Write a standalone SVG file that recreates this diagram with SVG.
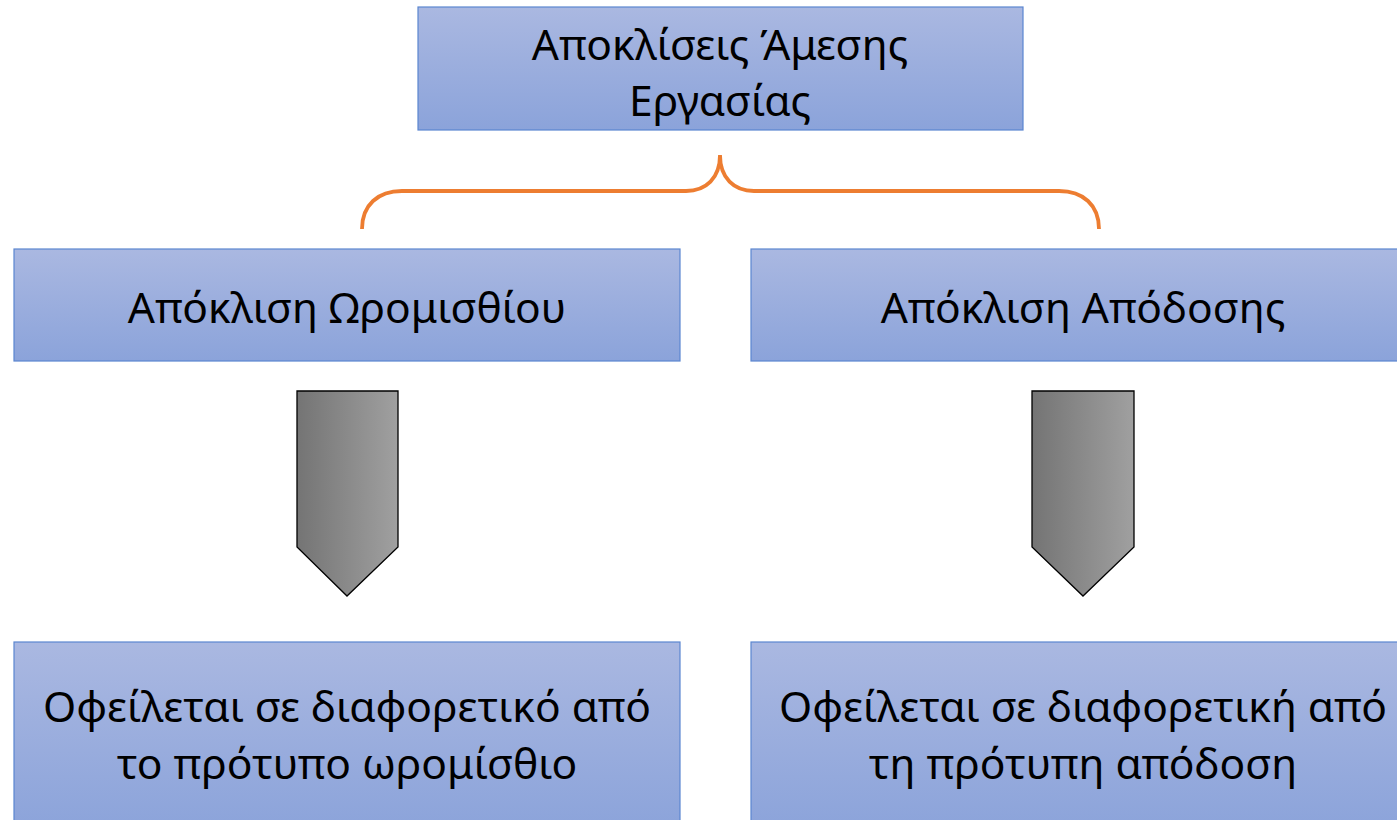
<svg xmlns="http://www.w3.org/2000/svg" width="1397" height="820" viewBox="0 0 1397 820">
<style>
.box{fill:url(#bg);stroke:#5B86D0;stroke-width:1.2}
.t{font-family:"Noto Sans","Open Sans",sans-serif;font-size:42.5px;fill:#000;text-anchor:middle}
.arr{fill:url(#ag);stroke:#000;stroke-width:1.3}
.brace{fill:none;stroke:#ED7D31;stroke-width:3.8}
</style>
<defs>
<linearGradient id="bg" x1="0" y1="0" x2="0" y2="1">
<stop offset="0" stop-color="#AAB8E1"/>
<stop offset="1" stop-color="#8BA3DA"/>
</linearGradient>
<linearGradient id="ag" x1="0" y1="0" x2="1" y2="0">
<stop offset="0" stop-color="#747474"/>
<stop offset="1" stop-color="#A0A0A0"/>
</linearGradient>
</defs>
<g id="top">
<rect class="box" x="418" y="7" width="605" height="123"/>
<text class="t" x="720" y="60">Αποκλίσεις Άμεσης</text>
<text class="t" x="720" y="116">Εργασίας</text>
</g>
<g id="left">
<rect class="box" x="14" y="249" width="666" height="112"/>
<text class="t" x="347" y="323">Απόκλιση Ωρομισθίου</text>
</g>
<g id="right">
<rect class="box" x="751" y="249" width="660" height="112"/>
<text class="t" x="1083" y="323">Απόκλιση Απόδοσης</text>
</g>
<g id="leftbottom">
<rect class="box" x="14" y="642" width="666" height="190"/>
<text class="t" x="347" y="722">Οφείλεται σε διαφορετικό από</text>
<text class="t" x="347" y="779">το πρότυπο ωρομίσθιο</text>
</g>
<g id="rightbottom">
<rect class="box" x="751" y="642" width="660" height="190"/>
<text class="t" x="1083" y="722">Οφείλεται σε διαφορετική από</text>
<text class="t" x="1083" y="779">τη πρότυπη απόδοση</text>
</g>
<g id="connectors">
<path class="brace" d="M362,229 C362,205 378,191 402,191 L686,191 C706,191 720,178 720,155 C720,178 734,191 754,191 L1059,191 C1083,191 1099,205 1099,229"/>
<path class="arr" d="M297,391 L398,391 L398,547 L347,596 L297,547 Z"/>
<path class="arr" d="M1032,391 L1134,391 L1134,547 L1083,596 L1032,547 Z"/>
</g>
</svg>
